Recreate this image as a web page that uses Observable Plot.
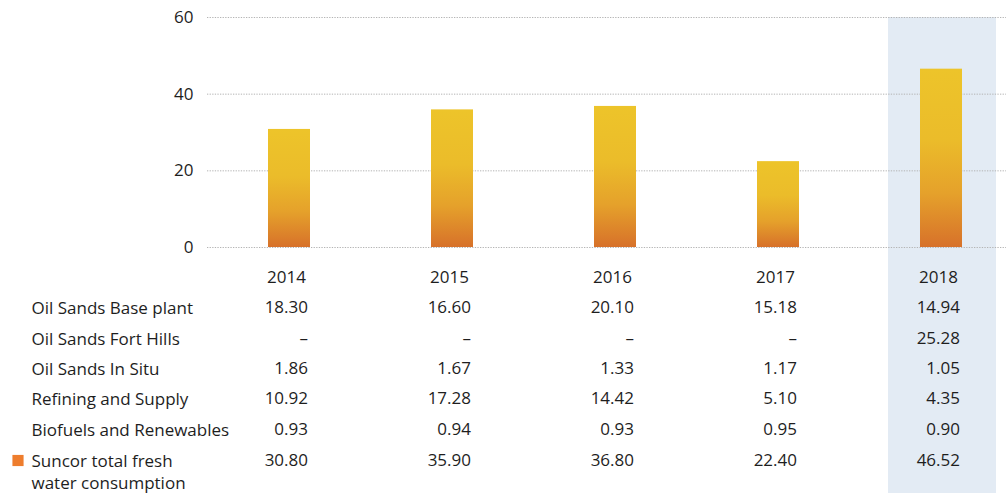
<!DOCTYPE html>
<html>
<head>
<meta charset="utf-8">
<script src="https://cdn.jsdelivr.net/npm/d3@7"></script>
<script src="https://cdn.jsdelivr.net/npm/@observablehq/plot@0.6"></script>
<style>
  html, body { margin: 0; padding: 0; background: #fff; }
</style>
</head>
<body>
<div id="chart"></div>
<script>
const years = ["2014", "2015", "2016", "2017", "2018"];
const totals = [30.80, 35.90, 36.80, 22.40, 46.52];
const baseplant = [18.30, 16.60, 20.10, 15.18, 14.94];
const fortHills = [null, null, null, null, 25.28];
const inSitu = [1.86, 1.67, 1.33, 1.17, 1.05];
const refining = [10.92, 17.28, 14.42, 5.10, 4.35];
const biofuels = [0.93, 0.94, 0.93, 0.95, 0.90];
const rowLabels = ["Oil Sands Base plant", "Oil Sands Fort Hills", "Oil Sands In Situ", "Refining and Supply", "Biofuels and Renewables", "Suncor total fresh\nwater consumption"];
const rowValues = [baseplant, fortHills, inSitu, refining, biofuels, totals];
const yTicks = [0, 20, 40, 60];
const highlightYear = "2018";

const data = years.map((y, i) => ({year: y, total: totals[i]}));
const fmt = v => v == null ? "\u2013" : v.toFixed(2);

// pixel offsets of each table row below the zero baseline
const rowDy = [60, 91, 121, 151, 182, 223.5];
const textColor = "#1e1e1e";
const fs = 17;

const marks = [
  Plot.barY([highlightYear], {x: d => d, y1: 60, y2: -66, fill: "#e3ebf4", insetLeft: 28, insetRight: 27}),
  Plot.ruleY(yTicks, {stroke: "#b4b4b4", strokeDasharray: "1.3,1.3", strokeWidth: 1}),
  Plot.barY(data, {x: "year", y: "total", fill: "url(#barGrad)", insetLeft: 60, insetRight: 61}),
  Plot.axisY({ticks: yTicks, tickSize: 0, tickPadding: 14, label: null, fill: textColor, fontSize: fs}),
  Plot.text(years, {x: d => d, y: () => 0, text: d => d, textAnchor: "end", dx: 16, dy: 30, fill: textColor, fontSize: fs})
];

rowLabels.forEach((label, r) => {
  marks.push(Plot.text([label], {
    y: () => 0, frameAnchor: "left", text: d => d, textAnchor: "start",
    dx: -176, dy: rowDy[r], fill: textColor, fontSize: fs, lineHeight: 1.27
  }));
  const vals = rowValues[r];
  marks.push(Plot.text(years, {
    x: d => d, y: () => 0, text: (d, i) => fmt(vals[i]), textAnchor: "end",
    dx: 18, dy: r === 5 ? 213 : rowDy[r], fill: textColor, fontSize: fs
  }));
});

// legend swatch for total row
marks.push(Plot.dot(["total"], {
  y: () => 0, frameAnchor: "left", dx: -189.5, dy: 213, symbol: "square", r: 6.3, fill: "#ee7d2d", stroke: null
}));

const chart = Plot.plot({
  width: 1006,
  height: 493,
  marginLeft: 207,
  marginRight: 0,
  marginTop: 17,
  marginBottom: 246,
  style: {fontFamily: "'Open Sans', sans-serif", fontSize: "17px", background: "#fff", overflow: "visible"},
  x: {type: "band", domain: years, range: [208, 1023], padding: 0, axis: null},
  y: {domain: [0, 60], range: [247, 17], axis: null},
  marks
});

const svg = d3.select(chart);
const defs = svg.insert("defs", ":first-child");
const grad = defs.append("linearGradient")
  .attr("id", "barGrad").attr("x1", 0).attr("y1", 0).attr("x2", 0).attr("y2", 1);
[[0, "#edc42a"], [0.4, "#ebbc2a"], [0.7, "#e5a12b"], [1, "#d7712a"]].forEach(([o, c]) =>
  grad.append("stop").attr("offset", o).attr("stop-color", c));

document.getElementById("chart").appendChild(chart);
</script>
</body>
</html>
